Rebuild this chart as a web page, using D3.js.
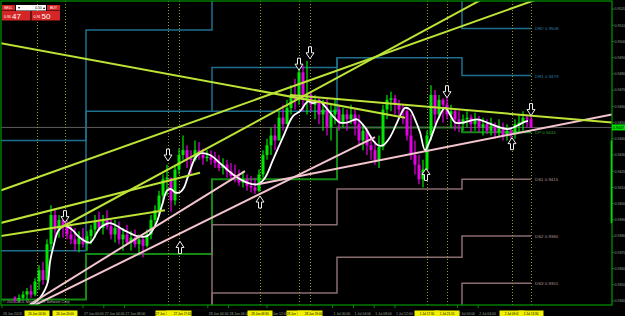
<!DOCTYPE html>
<html>
<head>
<meta charset="utf-8">
<script src="https://d3js.org/d3.v7.min.js"></script>
<style>
  body { margin: 0; background: #000; }
  #chart { width: 625px; height: 316px; overflow: hidden; }
  text { font-family: "Liberation Sans", Arial, sans-serif; }
</style>
</head>
<body>
<div id="chart"></div>
<script>
// price bars, one per bar index (open = previous close)
var firstOpen = 0.9342;
var highs = [0.9343,0.9344,0.9346,0.9348,0.9350,0.9354,0.9362,0.9364,0.9378,0.9399,
  0.9397,0.9393,0.9389,0.9390,0.9387,0.9385,0.9383,0.9385,0.9383,0.9387,
  0.9393,0.9395,0.9393,0.9396,0.9391,0.9390,0.9389,0.9385,0.9387,0.9383,
  0.9384,0.9381,0.9379,0.9384,0.9393,0.9399,0.9408,0.9418,0.9424,0.9412,
  0.9424,0.9434,0.9442,0.9436,0.9433,0.9439,0.9438,0.9434,0.9433,0.9433,
  0.9432,0.9430,0.9428,0.9427,0.9425,0.9424,0.9421,0.9420,0.9418,0.9417,
  0.9416,0.9421,0.9433,0.9440,0.9447,0.9449,0.9457,0.9461,0.9464,0.9473,
  0.9477,0.9486,0.9485,0.9488,0.9469,0.9467,0.9465,0.9464,0.9465,0.9461,
  0.9464,0.9461,0.9459,0.9458,0.9461,0.9458,0.9455,0.9449,0.9447,0.9442,
  0.9439,0.9442,0.9461,0.9467,0.9469,0.9467,0.9464,0.9461,0.9458,0.9455,
  0.9439,0.9430,0.9427,0.9445,0.9473,0.9470,0.9467,0.9465,0.9467,0.9461,
  0.9458,0.9457,0.9455,0.9457,0.9455,0.9456,0.9454,0.9453,0.9452,0.9453,
  0.9450,0.9452,0.9450,0.9449,0.9447,0.9452,0.9455,0.9457,0.9455,0.9454];
var lows = [0.9339,0.9339,0.9341,0.9341,0.9342,0.9343,0.9347,0.9350,0.9352,0.9371,
  0.9378,0.9379,0.9379,0.9378,0.9375,0.9371,0.9370,0.9373,0.9371,0.9375,
  0.9379,0.9383,0.9381,0.9384,0.9378,0.9376,0.9375,0.9371,0.9375,0.9371,
  0.9373,0.9368,0.9367,0.9373,0.9378,0.9387,0.9393,0.9402,0.9405,0.9395,
  0.9399,0.9418,0.9427,0.9422,0.9418,0.9426,0.9427,0.9424,0.9426,0.9424,
  0.9422,0.9420,0.9418,0.9416,0.9415,0.9413,0.9411,0.9410,0.9408,0.9407,
  0.9406,0.9407,0.9416,0.9427,0.9430,0.9433,0.9439,0.9445,0.9449,0.9455,
  0.9458,0.9461,0.9457,0.9455,0.9457,0.9452,0.9449,0.9445,0.9442,0.9439,
  0.9449,0.9445,0.9447,0.9445,0.9449,0.9442,0.9436,0.9433,0.9430,0.9427,
  0.9424,0.9422,0.9433,0.9452,0.9457,0.9455,0.9452,0.9449,0.9439,0.9427,
  0.9418,0.9412,0.9410,0.9420,0.9439,0.9449,0.9452,0.9450,0.9452,0.9447,
  0.9445,0.9444,0.9445,0.9447,0.9444,0.9445,0.9444,0.9442,0.9443,0.9442,
  0.9440,0.9441,0.9439,0.9439,0.9438,0.9440,0.9444,0.9445,0.9447,0.9447];
var closes = [0.9341,0.9342,0.9344,0.9346,0.9344,0.9352,0.9359,0.9353,0.9375,0.9393,
  0.9384,0.9390,0.9386,0.9381,0.9378,0.9375,0.9379,0.9375,0.9380,0.9384,
  0.9389,0.9385,0.9390,0.9386,0.9381,0.9385,0.9378,0.9381,0.9376,0.9379,
  0.9375,0.9378,0.9374,0.9381,0.9390,0.9396,0.9405,0.9415,0.9416,0.9402,
  0.9421,0.9430,0.9433,0.9428,0.9427,0.9433,0.9430,0.9428,0.9429,0.9427,
  0.9425,0.9422,0.9424,0.9420,0.9417,0.9416,0.9413,0.9415,0.9411,0.9410,
  0.9408,0.9418,0.9430,0.9436,0.9442,0.9439,0.9453,0.9449,0.9459,0.9467,
  0.9464,0.9481,0.9464,0.9467,0.9461,0.9464,0.9455,0.9458,0.9447,0.9455,
  0.9458,0.9450,0.9455,0.9452,0.9455,0.9449,0.9439,0.9445,0.9436,0.9433,
  0.9427,0.9435,0.9458,0.9464,0.9465,0.9461,0.9458,0.9457,0.9442,0.9430,
  0.9424,0.9415,0.9421,0.9442,0.9467,0.9455,0.9464,0.9461,0.9455,0.9457,
  0.9452,0.9449,0.9452,0.9453,0.9449,0.9452,0.9447,0.9449,0.9445,0.9448,
  0.9444,0.9447,0.9442,0.9445,0.9443,0.9449,0.9450,0.9453,0.9452,0.9447];

// white moving average
var maTime = [3.25,5,6.25,7.5,8.25,8.75,9.75,10.75,12,13,14.25,16.25,18.75,21.25,23.75,27,30.5,33,34.25,35.5,
  36.75,38,39,40,41.25,42.25,43,44,45,46.25,48.75,51.25,54.5,58,60.75,62.5,64.5,67,69.5,71.25,
  73.25,74.5,76.25,77.5,79.5,81.25,83,85.5,87.5,89.5,90.75,92,93.75,95.5,96.25,97.5,98.75,100,101.25,102.5,
  103.75,105.75,107.5,108.75,110,112,115.5,118,121.25,123.25,125.5,127,128.25];
var maValue = [0.9337,0.9339,0.9342,0.9347,0.9352,0.9364,0.9375,0.9383,0.9386,0.9386,0.9384,0.9379,0.9376,0.9385,0.9388,0.9384,0.9380,0.9380,0.9383,0.9389,
  0.9399,0.9408,0.9409,0.9407,0.9407,0.9410,0.9415,0.9422,0.9428,0.9431,0.9430,0.9425,0.9418,0.9413,0.9412,0.9416,0.9427,0.9441,0.9454,0.9457,
  0.9463,0.9462,0.9463,0.9460,0.9454,0.9450,0.9450,0.9452,0.9447,0.9439,0.9436,0.9436,0.9441,0.9450,0.9454,0.9459,0.9458,0.9452,0.9444,0.9433,
  0.9439,0.9452,0.9459,0.9455,0.9450,0.9450,0.9452,0.9450,0.9447,0.9446,0.9448,0.9450,0.9451];

// daily pivot levels (one value per day)
var dayStart = [-3.75, 17.75, 49.25, 80.5, 111.75];
var dayEnd = 129;
var pivotR2 = [0.9439, 0.9507, 0.9527, 0.9528, 0.9508];
var pivotR1 = [0.9371, 0.9457, 0.9484, 0.9490, 0.9479];
var pivotRx = [null, null, 0.9457, 0.9490, null];
var pivotP  = [0.9341, 0.9369, 0.9415, 0.9447, 0.9444];
var pivotS1 = [0.9300, 0.9325, 0.9387, 0.9409, 0.9415];
var pivotS2 = [0.9270, 0.9290, 0.9345, 0.9367, 0.9380];
var pivotS3 = [0.9250, 0.9260, 0.9315, 0.9328, 0.9351];
var pivotNames = ["DR2", "DR1", "DP", "DS1", "DS2", "DS3"];

var bidPrice = 0.9447;
var dayRange = [0.9439, 0.9388];

// axes
var priceTicks = [0.9520,0.9510,0.9500,0.9490,0.9480,0.9470,0.9460,0.9450,0.9440,0.9430,
  0.9420,0.9410,0.9400,0.9390,0.9380,0.9370,0.9360,0.9350,0.9340];
var timeTicks = [-3.25, 17, 22.2, 27.4, 48.2, 53.4, 63, 79.4, 84.6, 89.8, 95, 110.6, 115.8];
var timeLabels = ["26 Jun 2013","27 Jun 00:00","27 Jun 04:00","27 Jun 08:00",
  "28 Jun 00:00","28 Jun 04:00","28 Jun 12:00",
  "1 Jul 00:00","1 Jul 04:00","1 Jul 08:00","1 Jul 12:00",
  "2 Jul 00:00","2 Jul 04:00"];

// vertical event lines and their time labels
var eventTimes = [5.5, 12.5, 38.25, 41, 61.25, 71, 73.75, 103, 108, 124.25, 129];
var eventLabels = ["26 Jun 14:30","26 Jun 20:00","27 Jun 15:45","27 Jun 17:45","28 Jun 09:30","28 Jun 17:00",
  "28 Jun 19:00","1 Jul 17:30","1 Jul 21:15","2 Jul 09:45","2 Jul 13:30"];

// fractal arrows
var downTimes = [12.5, 38.25, 71, 73.75, 108, 129];
var downPrices = [0.9392, 0.9430, 0.9486, 0.9493, 0.9469, 0.9458];
var upTimes = [41.25, 61.25, 102.75, 124.25];
var upPrices = [0.9373, 0.9401, 0.9418, 0.9437];

// trend lines [t1, p1, t2, p2]
var yellowLines = [[-3.75,0.9499,97.5,0.9453],[68.75,0.9467,149.25,0.9450],[-3.75,0.9408,136.25,0.9531],
  [11.25,0.9385,121.25,0.9532],[-3.75,0.9388,46.25,0.9419],[-3.75,0.9380,37.5,0.9396]];
var pinkLines = [[3.75,0.9338,57.5,0.9420],[3.75,0.9336,90,0.9441],[60.75,0.9412,149.25,0.9455]];

var width = 625, height = 316;
var plot = {left: 1, top: 1, right: 612, bottom: 305};

var svg = d3.select("#chart")
    .append("svg")
    .attr("width", width)
    .attr("height", height)
    .style("background", "#000");

var x = d3.scaleLinear().domain([0, 129]).range([15, 531]);
var y = d3.scaleLinear().domain([0.9340, 0.9520]).range([301, 9]);

svg.append("defs").append("clipPath")
    .attr("id", "plotclip")
    .append("rect")
    .attr("x", plot.left)
    .attr("y", plot.top)
    .attr("width", plot.right - plot.left)
    .attr("height", plot.bottom - plot.top);

var g = svg.append("g").attr("clip-path", "url(#plotclip)");

// pivot step lines
var stepLine = d3.line()
    .defined(function(d) { return d.v != null; })
    .x(function(d) { return x(d.t); })
    .y(function(d) { return y(d.v); })
    .curve(d3.curveStepAfter);

function stepPoints(vals) {
    var pts = vals.map(function(v, i) { return {t: dayStart[i], v: v}; });
    pts.push({t: dayEnd, v: vals[vals.length - 1]});
    return pts;
}

var pivotSets = [
    {vals: pivotR2, color: "#1f6f8f"},
    {vals: pivotR1, color: "#1f6f8f"},
    {vals: pivotRx, color: "#1f6f8f"},
    {vals: pivotP, color: "#138a13"},
    {vals: pivotS1, color: "#8a6c70"},
    {vals: pivotS2, color: "#8a6c70"},
    {vals: pivotS3, color: "#8a6c70"}
];
pivotSets.forEach(function(s) {
    g.append("path")
        .attr("d", stepLine(stepPoints(s.vals)))
        .attr("fill", "none")
        .attr("stroke", s.color)
        .attr("stroke-width", s.vals === pivotP ? 2 : 1.5);
});

// bid line
g.append("line")
    .attr("x1", plot.left).attr("x2", plot.right)
    .attr("y1", y(bidPrice)).attr("y2", y(bidPrice))
    .attr("stroke", "#5c5c5c")
    .attr("stroke-width", 1);

// event lines
g.selectAll(".evt")
    .data(eventTimes)
    .enter()
    .append("line")
    .attr("x1", function(d) { return Math.round(x(d)) + 0.5; })
    .attr("x2", function(d) { return Math.round(x(d)) + 0.5; })
    .attr("y1", plot.top).attr("y2", plot.bottom)
    .attr("stroke", "#9c9c22")
    .attr("stroke-width", 1)
    .attr("stroke-dasharray", "1,2");

// candles
var bars = closes.map(function(c, i) {
    return {i: i, o: i === 0 ? firstOpen : closes[i - 1], h: highs[i], l: lows[i], c: c};
});
var candle = g.append("g").selectAll("g")
    .data(bars)
    .enter()
    .append("g");
candle.append("line")
    .attr("x1", function(d) { return x(d.i); })
    .attr("x2", function(d) { return x(d.i); })
    .attr("y1", function(d) { return y(d.h); })
    .attr("y2", function(d) { return y(d.l); })
    .attr("stroke", function(d) { return d.c >= d.o ? "#00e600" : "#e600e6"; })
    .attr("stroke-width", 1.2);
candle.append("rect")
    .attr("x", function(d) { return x(d.i) - 1.5; })
    .attr("width", 3)
    .attr("y", function(d) { return y(Math.max(d.o, d.c)); })
    .attr("height", function(d) { return Math.max(1, Math.abs(y(d.o) - y(d.c))); })
    .attr("fill", function(d) { return d.c >= d.o ? "#00e600" : "#e600e6"; });

// moving average
var maLine = d3.line()
    .x(function(d, i) { return x(maTime[i]); })
    .y(function(d) { return y(d); })
    .curve(d3.curveCatmullRom.alpha(0.5));
g.append("path")
    .attr("d", maLine(maValue))
    .attr("fill", "none")
    .attr("stroke", "#ffffff")
    .attr("stroke-width", 1.8);

// trend lines
function drawTrend(list, color) {
    g.append("g").selectAll("line")
        .data(list)
        .enter()
        .append("line")
        .attr("x1", function(d) { return x(d[0]); })
        .attr("y1", function(d) { return y(d[1]); })
        .attr("x2", function(d) { return x(d[2]); })
        .attr("y2", function(d) { return y(d[3]); })
        .attr("stroke", color)
        .attr("stroke-width", 2);
}
drawTrend(pinkLines, "#f4c4cf");
drawTrend(yellowLines, "#bde336");

// fractal arrows
var downPath = "M-1.5,-6H1.5V0H4L0,6L-4,0H-1.5Z";
var upPath = "M-1.5,6H1.5V0H4L0,-6L-4,0H-1.5Z";
g.selectAll(".dn")
    .data(downTimes)
    .enter()
    .append("path")
    .attr("d", downPath)
    .attr("transform", function(d, i) { return "translate(" + x(d) + "," + y(downPrices[i]) + ")"; })
    .attr("fill", "#000")
    .attr("stroke", "#f0f0f0")
    .attr("stroke-width", 1);
g.selectAll(".up")
    .data(upTimes)
    .enter()
    .append("path")
    .attr("d", upPath)
    .attr("transform", function(d, i) { return "translate(" + x(d) + "," + y(upPrices[i]) + ")"; })
    .attr("fill", "#000")
    .attr("stroke", "#f0f0f0")
    .attr("stroke-width", 1);

// pivot labels for the current day
var lastLevels = [pivotR2[4], pivotR1[4], pivotP[4], pivotS1[4], pivotS2[4], pivotS3[4]];
var labelColors = ["#2a7fa2", "#2a7fa2", "#2a9a2a", "#b09496", "#b09496", "#b09496"];
g.selectAll(".plab")
    .data(lastLevels)
    .enter()
    .append("text")
    .attr("x", x(dayEnd) + 4)
    .attr("y", function(d) { return y(d) + 2; })
    .attr("font-size", "4.4px")
    .attr("fill", function(d, i) { return labelColors[i]; })
    .text(function(d, i) { return pivotNames[i] + " " + d3.format(".4f")(d); });

// copyright
svg.append("text")
    .attr("x", 3).attr("y", 303)
    .attr("font-size", "3.6px")
    .attr("fill", "#a8a8a8")
    .text("\u00a9 2001-2013, MetaQuotes Software Corp.");

// frame
svg.append("rect")
    .attr("x", 1).attr("y", 1)
    .attr("width", plot.right - 1).attr("height", plot.bottom - 1)
    .attr("fill", "none")
    .attr("stroke", "#008a00")
    .attr("stroke-width", 1.3);

// right price axis
svg.selectAll(".ptick")
    .data(priceTicks)
    .enter()
    .append("line")
    .attr("x1", plot.right).attr("x2", plot.right + 2)
    .attr("y1", function(d) { return y(d); })
    .attr("y2", function(d) { return y(d); })
    .attr("stroke", "#008a00");
svg.selectAll(".plabel")
    .data(priceTicks)
    .enter()
    .append("text")
    .attr("x", plot.right + 2.5)
    .attr("y", function(d) { return y(d) + 1.3; })
    .attr("font-size", "3.6px")
    .attr("fill", "#9aa89a")
    .text(function(d) { return d3.format(".4f")(d); });

// day range bar on the axis
svg.append("line")
    .attr("x1", plot.right - 0.5).attr("x2", plot.right - 0.5)
    .attr("y1", y(dayRange[0])).attr("y2", y(dayRange[1]))
    .attr("stroke", "#00dd00")
    .attr("stroke-width", 1.6);

// current price box
svg.append("rect")
    .attr("x", plot.right).attr("y", y(bidPrice) - 3)
    .attr("width", 13).attr("height", 6)
    .attr("fill", "#00e000");
svg.append("text")
    .attr("x", plot.right + 1).attr("y", y(bidPrice) + 1.4)
    .attr("font-size", "3.6px")
    .attr("fill", "#000")
    .text(d3.format(".4f")(bidPrice));

// bottom time axis
svg.selectAll(".ttick")
    .data(timeTicks)
    .enter()
    .append("line")
    .attr("x1", function(d) { return x(d); })
    .attr("x2", function(d) { return x(d); })
    .attr("y1", plot.bottom).attr("y2", plot.bottom + 3)
    .attr("stroke", "#008a00");
svg.selectAll(".tlabel")
    .data(timeTicks)
    .enter()
    .append("text")
    .attr("x", function(d) { return x(d) + 1; })
    .attr("y", 314.5)
    .attr("font-size", "3.4px")
    .attr("fill", "#9aa89a")
    .text(function(d, i) { return timeLabels[i]; });

// event time boxes; close neighbours push their texts apart
var evt = svg.selectAll(".elab")
    .data(eventTimes)
    .enter()
    .append("g")
    .attr("transform", function(d) { return "translate(" + x(d) + ",0)"; });
evt.append("rect")
    .attr("x", -12.5).attr("y", 310.5)
    .attr("width", 25).attr("height", 5.5)
    .attr("fill", "#f2f200");
evt.append("text")
    .attr("x", function(d, i) {
        var off = 0;
        if (i < eventTimes.length - 1 && x(eventTimes[i + 1]) - x(d) < 15) off -= 3.5;
        if (i > 0 && x(d) - x(eventTimes[i - 1]) < 15) off += 3.5;
        return off;
    })
    .attr("y", 314.6)
    .attr("text-anchor", "middle")
    .attr("font-size", "3px")
    .attr("fill", "#000")
    .text(function(d, i) { return eventLabels[i]; });

// one click trading panel
var panel = svg.append("g").attr("transform", "translate(2,4)");
panel.append("rect").attr("x", 0).attr("y", 1).attr("width", 13).attr("height", 5.5).attr("fill", "#d42626");
panel.append("text").attr("x", 2).attr("y", 5.3).attr("font-size", "3.5px").attr("fill", "#fff").text("SELL");
panel.append("rect").attr("x", 14).attr("y", 1).attr("width", 30).attr("height", 5.5).attr("fill", "#ffffff");
panel.append("text").attr("x", 16).attr("y", 5.3).attr("font-size", "3.5px").attr("fill", "#000").text("\u25be");
panel.append("text").attr("x", 33).attr("y", 5.3).attr("font-size", "3.5px").attr("fill", "#000").text("0.50");
panel.append("text").attr("x", 41).attr("y", 5.3).attr("font-size", "3.5px").attr("fill", "#000").text("\u25b4");
panel.append("rect").attr("x", 45).attr("y", 1).attr("width", 13).attr("height", 5.5).attr("fill", "#d42626");
panel.append("text").attr("x", 48).attr("y", 5.3).attr("font-size", "3.5px").attr("fill", "#fff").text("BUY");
panel.append("rect").attr("x", 0).attr("y", 7).attr("width", 28.5).attr("height", 9.5).attr("fill", "#d42626");
panel.append("rect").attr("x", 29.5).attr("y", 7).attr("width", 28.5).attr("height", 9.5).attr("fill", "#d42626");
panel.append("text").attr("x", 2).attr("y", 14).attr("font-size", "3.5px").attr("fill", "#fff").text("0.94");
panel.append("text").attr("x", 10).attr("y", 15).attr("font-size", "8px").attr("fill", "#fff").text("47");
panel.append("text").attr("x", 31.5).attr("y", 14).attr("font-size", "3.5px").attr("fill", "#fff").text("0.94");
panel.append("text").attr("x", 39.5).attr("y", 15).attr("font-size", "8px").attr("fill", "#fff").text("50");
</script>
</body>
</html>
